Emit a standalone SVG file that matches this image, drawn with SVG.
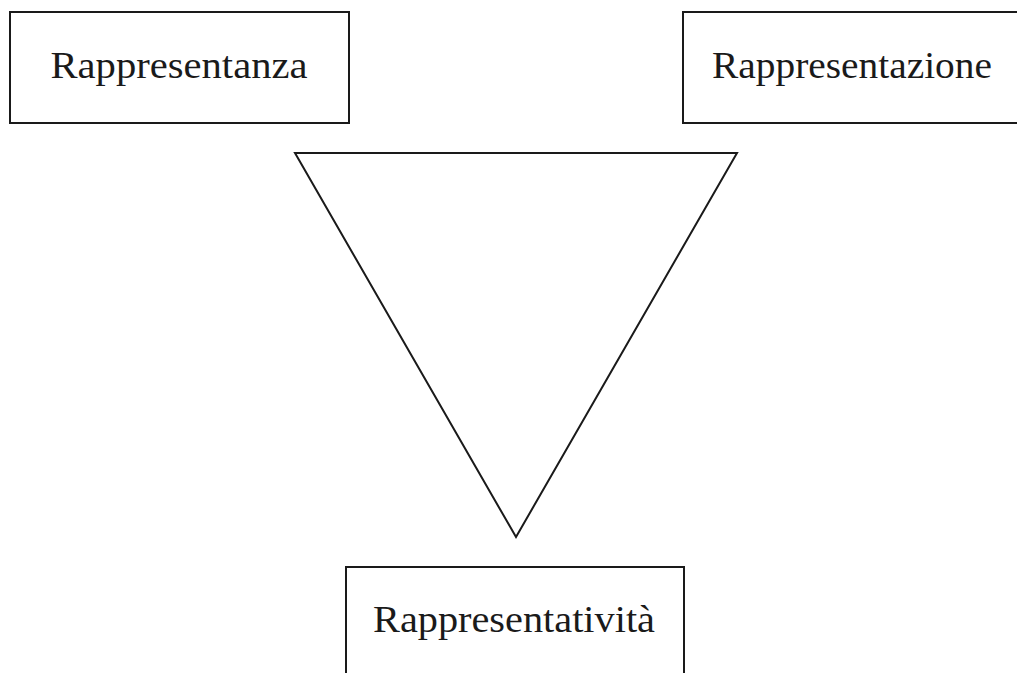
<svg xmlns="http://www.w3.org/2000/svg" width="1017" height="673" viewBox="0 0 1017 673">
<style>
.box{fill:#fff;stroke:#1a1a1a;stroke-width:2}
.lbl{font-family:"Liberation Serif","DejaVu Serif",serif;font-size:38px;fill:#1a1a1a;text-anchor:middle}
.tri{fill:none;stroke:#1a1a1a;stroke-width:2;stroke-linejoin:miter}
</style>
<rect width="1017" height="673" fill="#fff"/>
<g id="connectors">
<polygon class="tri" points="295,153 737,153 516,537"/>
</g>
<g id="rappresentanza">
<rect class="box" x="10" y="12" width="339" height="111"/>
<text class="lbl" x="179" y="78" textLength="257" lengthAdjust="spacingAndGlyphs">Rappresentanza</text>
</g>
<g id="rappresentazione">
<rect class="box" x="683" y="12" width="345" height="111"/>
<text class="lbl" x="852" y="78" textLength="280" lengthAdjust="spacingAndGlyphs">Rappresentazione</text>
</g>
<g id="rappresentativita">
<rect class="box" x="346" y="567" width="338" height="120"/>
<text class="lbl" x="514" y="632" textLength="282" lengthAdjust="spacingAndGlyphs">Rappresentatività</text>
</g>
</svg>
